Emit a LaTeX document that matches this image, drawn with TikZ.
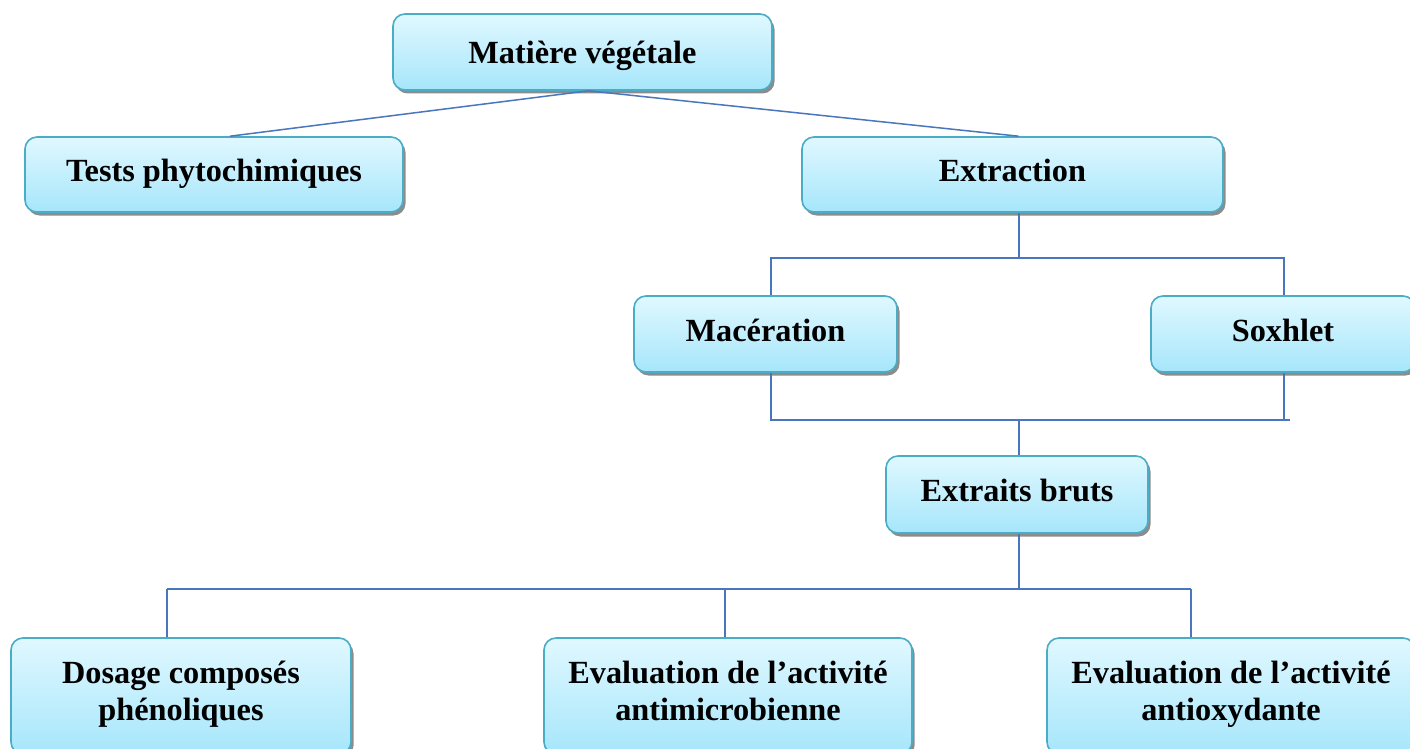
\documentclass[tikz,border=0pt]{standalone}
\usepackage{fontspec}
\setmainfont{Liberation Serif}
\usetikzlibrary{shadows,calc}
\definecolor{boxtop}{HTML}{E0F8FF}
\definecolor{boxbot}{HTML}{A6E6FB}
\definecolor{boxedge}{HTML}{4BACC6}
\definecolor{linkc}{HTML}{4A76BE}
\begin{document}
\begin{tikzpicture}[x=1pt,y=-1pt,
  flowbox/.style={draw=boxedge, line width=1.6pt, rounded corners=12pt,
    top color=boxtop, bottom color=boxbot,
    drop shadow={shadow xshift=2.5pt, shadow yshift=-3.5pt, fill=black!45, opacity=1},
    font=\fontsize{32.3}{37}\selectfont\bfseries, align=center, inner sep=0pt},
  link/.style={draw=linkc, line width=1.5pt}]
\useasboundingbox (0,0) rectangle (1410,749);
\clip (0,0) rectangle (1410,749);
\fill[white] (0,0) rectangle (1410,749);

\node[flowbox, minimum width=379pt, minimum height=76pt, text height=34pt, text depth=11pt] (mat) at (582.5,52) {Matière végétale};
\node[flowbox, minimum width=378pt, minimum height=75pt] (tests) at (214,174.5) {Tests phytochimiques\strut};
\node[flowbox, minimum width=421pt, minimum height=75pt] (extr) at (1012.5,174.5) {Extraction\strut};
\node[flowbox, minimum width=263pt, minimum height=76pt] (mac) at (765.5,334) {Macération\strut};
\node[flowbox, minimum width=264pt, minimum height=76pt] (sox) at (1283,334) {Soxhlet\strut};
\node[flowbox, minimum width=262pt, minimum height=77pt] (ext) at (1017,494.5) {Extraits bruts\strut};
\node[flowbox, minimum width=340pt, minimum height=116pt] (dos) at (181,696) {Dosage composés\\phénoliques\strut};
\node[flowbox, minimum width=368pt, minimum height=116pt] (mic) at (728,696) {Evaluation de l’activité\\antimicrobienne\strut};
\node[flowbox, minimum width=368pt, minimum height=116pt] (oxy) at (1231,696) {Evaluation de l’activité\\antioxydante\strut};

% top links
\draw[link] ($(mat.south)+(6,0)$) -- ($(tests.north)+(16,0)$);
\draw[link] ($(mat.south)+(6,0)$) -- ($(extr.north)+(6,0)$);

% extraction split
\coordinate (j1) at (1019,258);
\coordinate (mL) at (771,258);
\coordinate (sR) at (1284,258);
\draw[link] (extr.south -| j1) -- (j1);
\draw[link] (mac.north -| mL) -- (mL) -- (sR) -- (sox.north -| sR);

% merge
\coordinate (mL2) at (771,420);
\coordinate (sB) at (1284,420);
\coordinate (sR2) at (1290,420);
\coordinate (j2) at (1019,420);
\draw[link] (mac.south -| mL2) -- (mL2) -- (sR2);
\draw[link] (sox.south -| sB) -- (sB);
\draw[link] (j2) -- (ext.north -| j2);

% bottom split
\coordinate (j3) at (1019,589);
\coordinate (b1) at (167,589);
\coordinate (b2) at (725,589);
\coordinate (b3) at (1191,589);
\draw[link] (ext.south -| j3) -- (j3);
\draw[link] (b1) -- (b3);
\draw[link] (b1) -- (dos.north -| b1);
\draw[link] (b2) -- (mic.north -| b2);
\draw[link] (b3) -- (oxy.north -| b3);
\end{tikzpicture}
\end{document}
